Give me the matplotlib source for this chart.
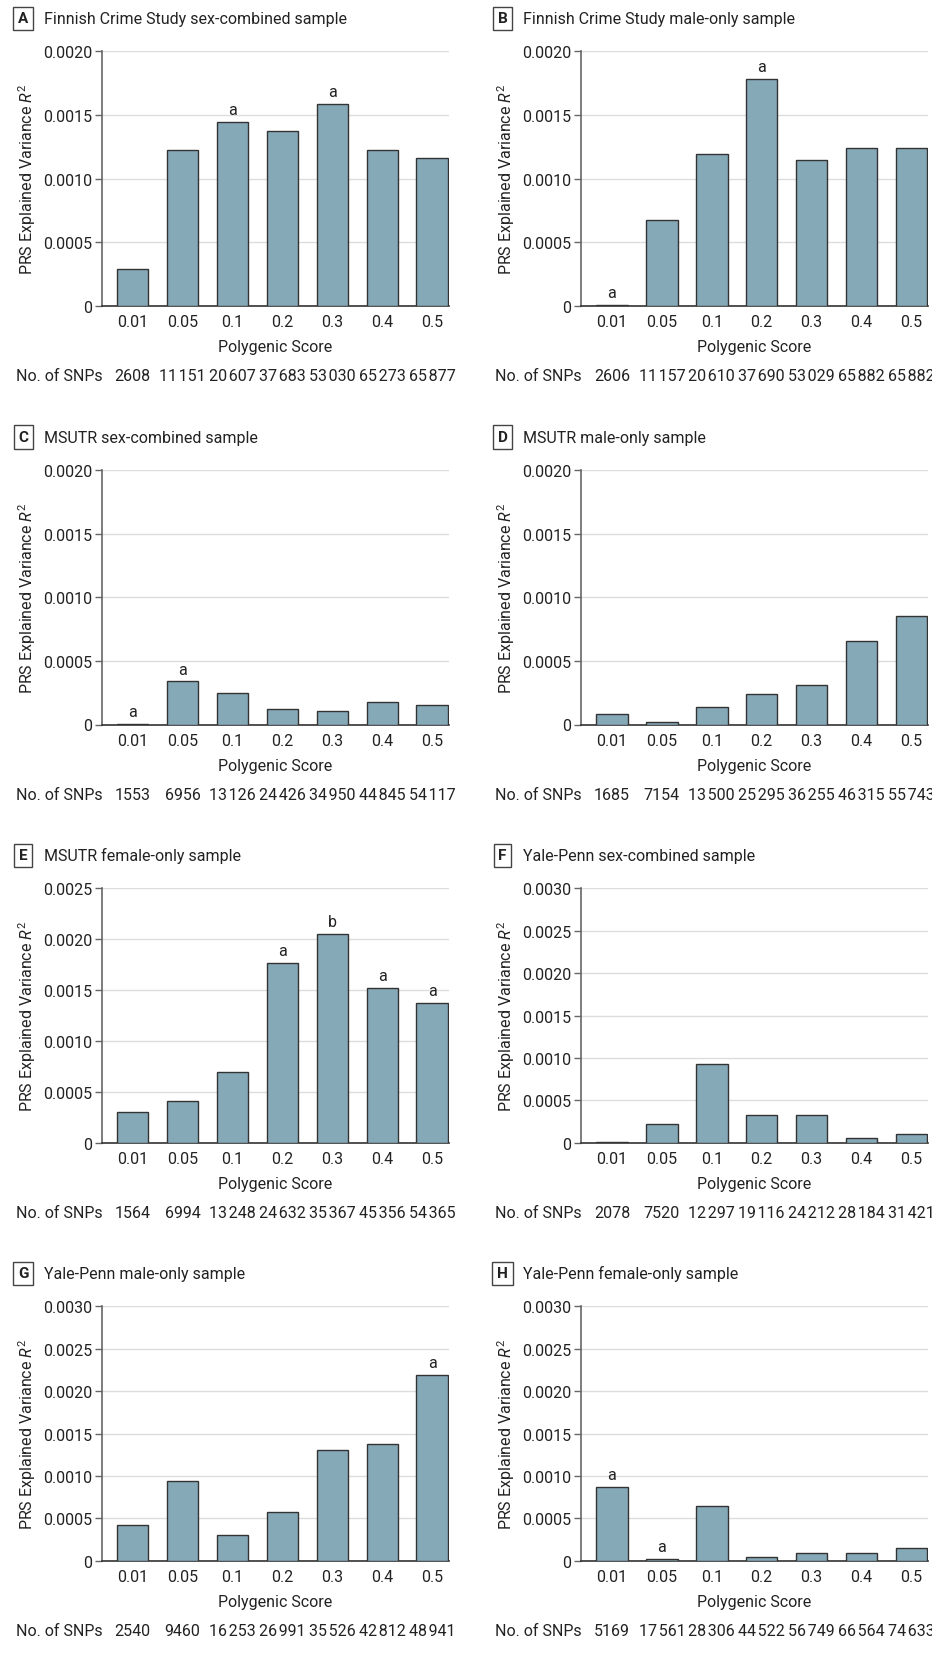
import matplotlib
matplotlib.use("Agg")
import matplotlib.pyplot as plt
from matplotlib import transforms

plt.rcParams["font.family"] = ["Roboto", "DejaVu Sans"]
plt.rcParams["mathtext.fontset"] = "custom"
plt.rcParams["mathtext.rm"] = "Roboto"
plt.rcParams["mathtext.it"] = "Roboto:italic"

THRESHOLDS = ["0.01", "0.05", "0.1", "0.2", "0.3", "0.4", "0.5"]

PANEL_LETTERS = ["A", "B", "C", "D", "E", "F", "G", "H"]
PANEL_TITLES = [
    "Finnish Crime Study sex-combined sample",
    "Finnish Crime Study male-only sample",
    "MSUTR sex-combined sample",
    "MSUTR male-only sample",
    "MSUTR female-only sample",
    "Yale-Penn sex-combined sample",
    "Yale-Penn male-only sample",
    "Yale-Penn female-only sample",
]

r2_a = [0.000286, 0.001227, 0.001444, 0.001376, 0.001588, 0.001221, 0.001159]
r2_b = [0.000010, 0.000671, 0.001193, 0.001782, 0.001143, 0.001237, 0.001237]
r2_c = [0.000003, 0.000338, 0.000246, 0.000118, 0.000110, 0.000178, 0.000157]
r2_d = [0.000081, 0.000016, 0.000134, 0.000241, 0.000312, 0.000660, 0.000855]
r2_e = [0.000304, 0.000409, 0.000694, 0.001764, 0.002052, 0.001518, 0.001371]
r2_f = [0.000004, 0.000220, 0.000927, 0.000322, 0.000330, 0.000059, 0.000102]
r2_g = [0.000424, 0.000937, 0.000310, 0.000576, 0.001306, 0.001373, 0.002192]
r2_h = [0.000871, 0.000020, 0.000651, 0.000047, 0.000090, 0.000090, 0.000153]

snps_a = [2608, 11151, 20607, 37683, 53030, 65273, 65877]
snps_b = [2606, 11157, 20610, 37690, 53029, 65882, 65882]
snps_c = [1553, 6956, 13126, 24426, 34950, 44845, 54117]
snps_d = [1685, 7154, 13500, 25295, 36255, 46315, 55743]
snps_e = [1564, 6994, 13248, 24632, 35367, 45356, 54365]
snps_f = [2078, 7520, 12297, 19116, 24212, 28184, 31421]
snps_g = [2540, 9460, 16253, 26991, 35526, 42812, 48941]
snps_h = [5169, 17561, 28306, 44522, 56749, 66564, 74633]

# significance marks above bars ("" = none)
marks_a = ["", "", "a", "", "a", "", ""]
marks_b = ["a", "", "", "a", "", "", ""]
marks_c = ["a", "a", "", "", "", "", ""]
marks_d = ["", "", "", "", "", "", ""]
marks_e = ["", "", "", "a", "b", "a", "a"]
marks_f = ["", "", "", "", "", "", ""]
marks_g = ["", "", "", "", "", "", "a"]
marks_h = ["a", "a", "", "", "", "", ""]

y_max = [0.0020, 0.0020, 0.0020, 0.0020, 0.0025, 0.0030, 0.0030, 0.0030]

all_r2 = [r2_a, r2_b, r2_c, r2_d, r2_e, r2_f, r2_g, r2_h]
all_snps = [snps_a, snps_b, snps_c, snps_d, snps_e, snps_f, snps_g, snps_h]
all_marks = [marks_a, marks_b, marks_c, marks_d, marks_e, marks_f, marks_g, marks_h]

BAR_COLOR = "#86a9b7"
EDGE_COLOR = "#333333"
FS = 11.5

W, H = 932, 1656
AX_W, AX_H = 347, 254.5
col_left = [101.7, 581.0]
row_top = [52.3, 471.0, 889.3, 1307.3]


def fmt_num(n):
    if n < 10000:
        return str(n)
    return f"{n:,}".replace(",", "\u200a")


def fmt_tick(v):
    return "0" if v == 0 else f"{v:.4f}"


fig = plt.figure(figsize=(W / 100, H / 100), dpi=100)

for k in range(8):
    col, row = k % 2, k // 2
    left, top = col_left[col], row_top[row]
    ax = fig.add_axes([left / W, 1 - (top + AX_H) / H, AX_W / W, AX_H / H])

    x = list(range(len(THRESHOLDS)))
    ax.bar(x, all_r2[k], width=0.63, color=BAR_COLOR, edgecolor=EDGE_COLOR,
           linewidth=1.0, zorder=3)

    for i, m in enumerate(all_marks[k]):
        if m:
            ax.annotate(m, (i, all_r2[k][i]), xytext=(0, 3.5),
                        textcoords="offset points", ha="center", va="bottom",
                        fontsize=FS, color="#222222")

    ax.set_xlim(-0.62, 6.33)
    ax.set_ylim(0, y_max[k])
    yt = [j * 0.0005 for j in range(int(round(y_max[k] / 0.0005)) + 1)]
    ax.set_yticks(yt)
    ax.set_yticklabels([fmt_tick(v) for v in yt])
    ax.set_xticks(x)
    ax.set_xticklabels(THRESHOLDS)

    ax.tick_params(axis="x", length=0, pad=6, labelsize=FS, labelcolor="#222222")
    ax.tick_params(axis="y", length=5, width=1, color="#666666", pad=2,
                   labelsize=FS, labelcolor="#222222")

    ax.yaxis.grid(True, color="#dddddd", linewidth=1.0)
    ax.set_axisbelow(True)
    for s in ["top", "right"]:
        ax.spines[s].set_visible(False)
    ax.spines["left"].set_color("#666666")
    ax.spines["left"].set_linewidth(1.2)
    ax.spines["bottom"].set_color("#333333")
    ax.spines["bottom"].set_linewidth(1.2)

    ax.text(-75 / AX_W, 0.5, r"PRS Explained Variance $\mathit{R}^2$",
            rotation=90, ha="center", va="center", fontsize=FS,
            color="#222222", transform=ax.transAxes)
    ax.text(0.5, -41 / AX_H, "Polygenic Score", ha="center", va="center",
            fontsize=FS, color="#222222", transform=ax.transAxes)

    trans = transforms.blended_transform_factory(ax.transData, ax.transAxes)
    ax.text(1 / AX_W, -70 / AX_H, "No. of SNPs", ha="right", va="center",
            fontsize=FS, color="#222222", transform=ax.transAxes)
    for i, n in enumerate(all_snps[k]):
        ax.text(i, -70 / AX_H, fmt_num(n), ha="center", va="center",
                fontsize=FS, color="#222222", transform=trans, clip_on=False)

    ax.text(-78.5 / AX_W, 1 + 33 / AX_H, PANEL_LETTERS[k], ha="center",
            va="center", fontsize=FS - 0.5, fontweight="bold", color="#222222",
            transform=ax.transAxes,
            bbox=dict(boxstyle="square,pad=0.3", facecolor="white",
                      edgecolor="#444444", linewidth=1.0))
    ax.text(-57.7 / AX_W, 1 + 33 / AX_H, PANEL_TITLES[k], ha="left",
            va="center", fontsize=FS, color="#222222", transform=ax.transAxes)

fig.savefig("out.png", dpi=100)
